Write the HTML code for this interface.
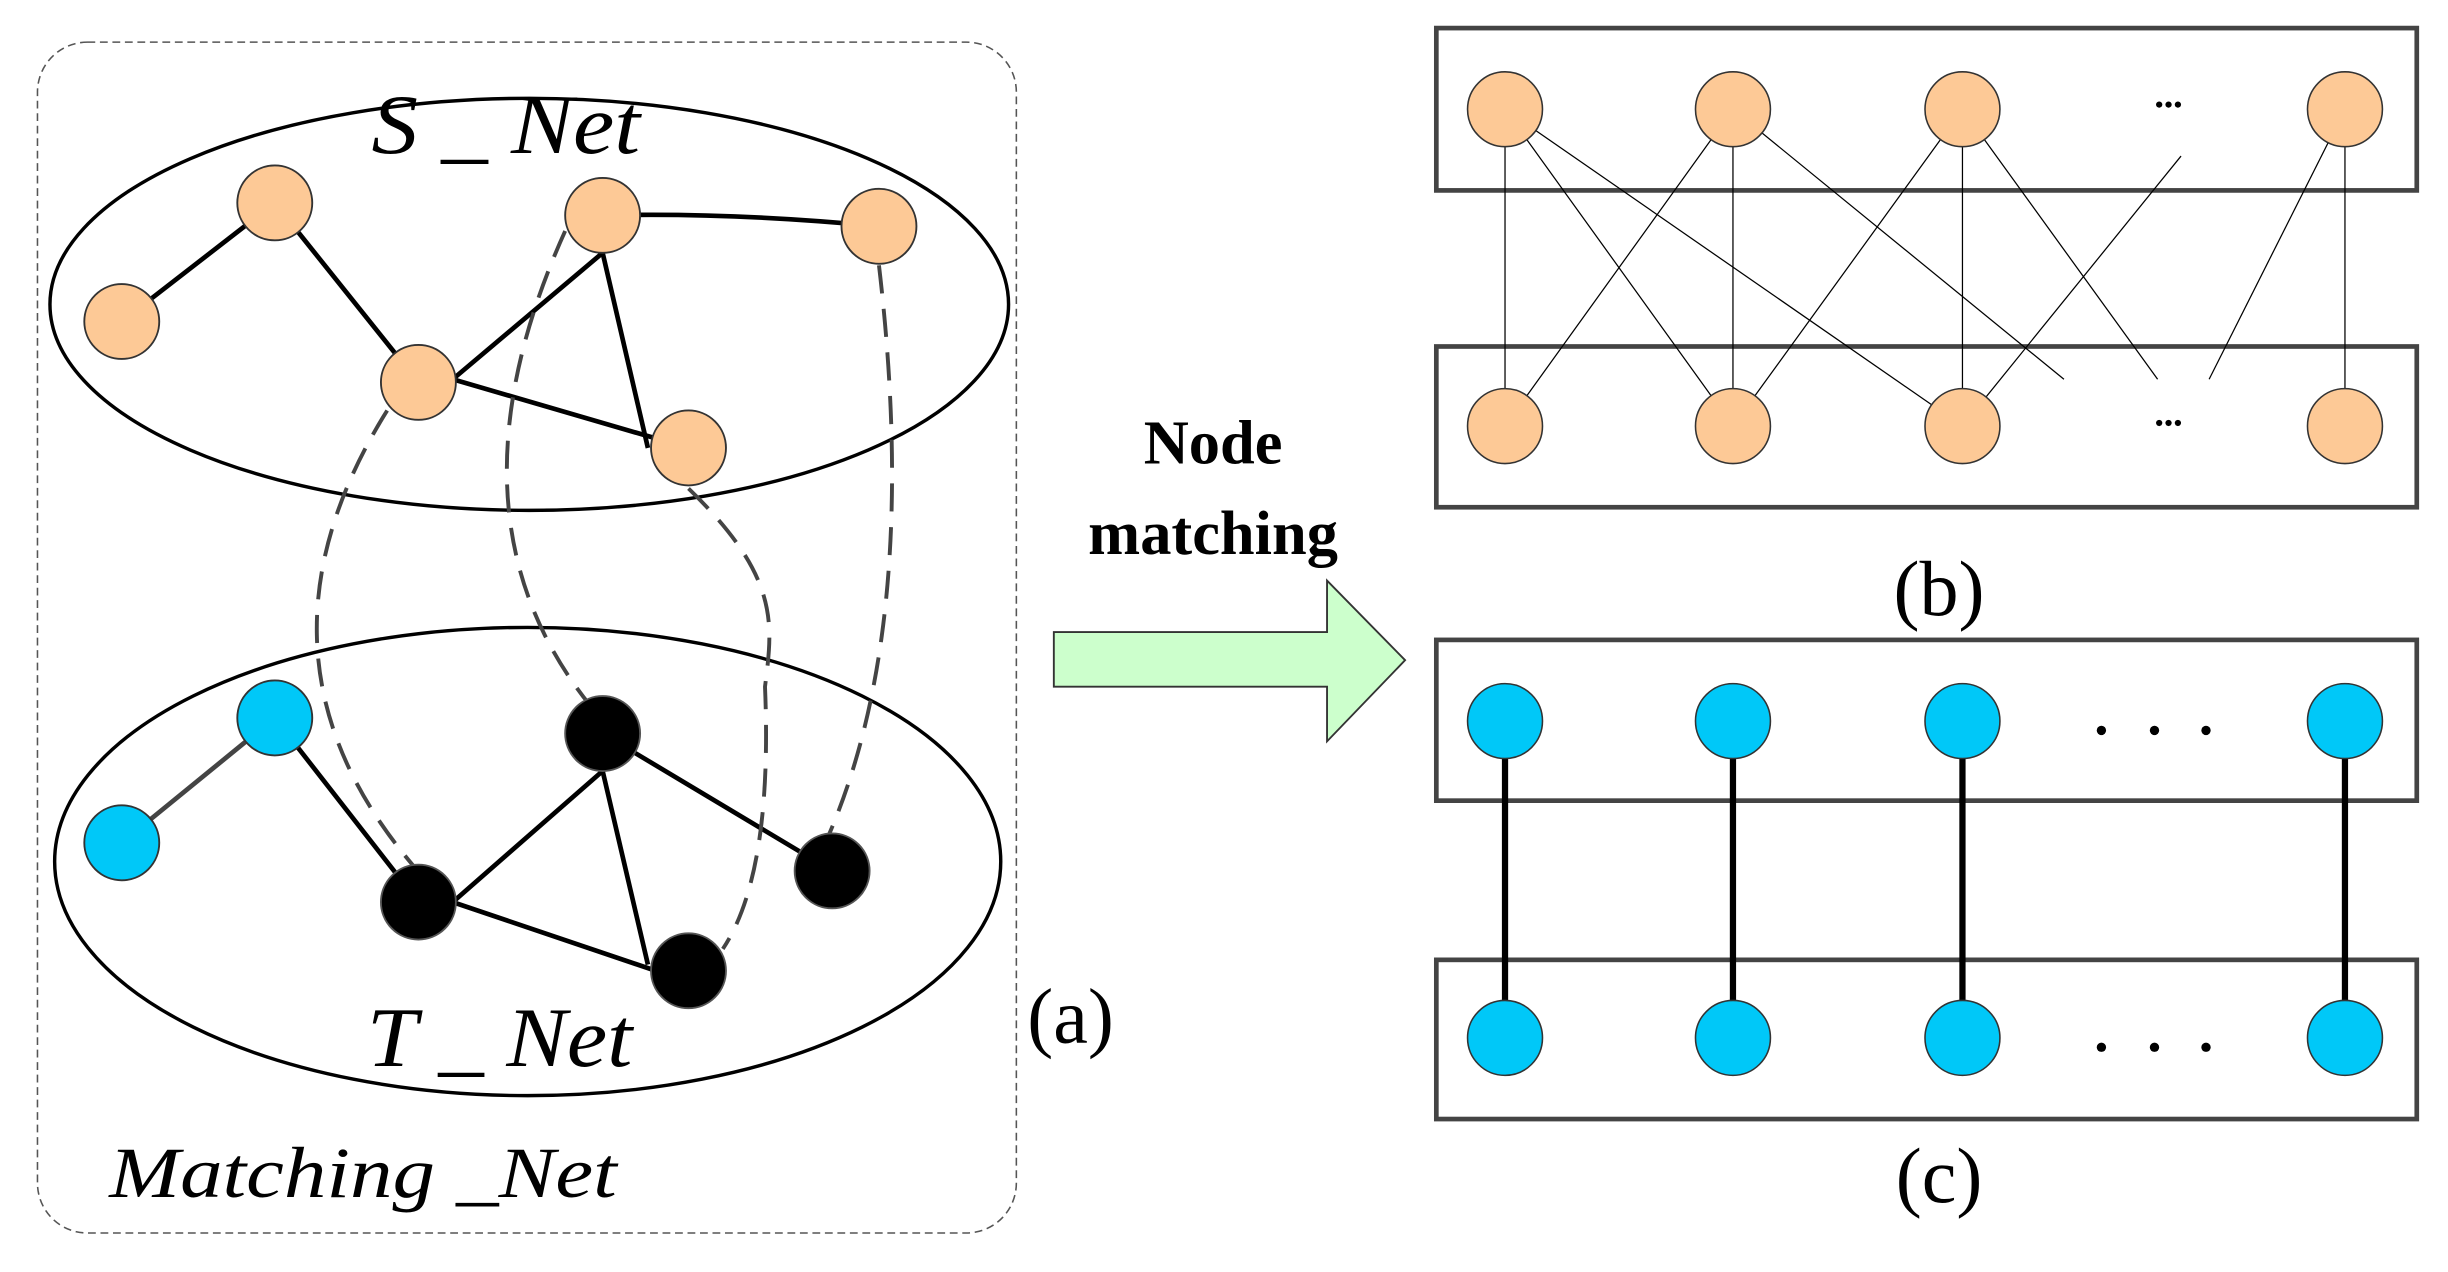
<!DOCTYPE html>
<html><head><style>html,body{margin:0;padding:0;background:#fff}svg{display:block}</style></head>
<body>
<svg width="2448" height="1272" viewBox="0 0 1568 815" preserveAspectRatio="none" xmlns="http://www.w3.org/2000/svg">
<rect width="1568" height="815" fill="#fff"/>
<rect x="24" y="27" width="627" height="763" rx="32" fill="none" stroke="#555" stroke-width="1" stroke-dasharray="5,3"/>
<ellipse cx="339" cy="195" rx="307" ry="132" fill="none" stroke="#000" stroke-width="2.2"/>
<ellipse cx="338" cy="552" rx="303" ry="150" fill="none" stroke="#000" stroke-width="2.2"/>
<g font-family="Liberation Serif, serif" font-style="italic" font-size="54" fill="#000">
<text x="238" y="98" textLength="172" lengthAdjust="spacingAndGlyphs">S _ Net</text>
<text x="235" y="683" textLength="170" lengthAdjust="spacingAndGlyphs">T _ Net</text>
<text x="70" y="767" font-size="46" textLength="325" lengthAdjust="spacingAndGlyphs">Matching _Net</text>
</g>
<g stroke="#000" stroke-width="3" fill="none">
<line x1="78" y1="206" x2="176" y2="130"/>
<line x1="176" y1="130" x2="268" y2="245"/>
<line x1="290" y1="243" x2="386" y2="162"/>
<line x1="290" y1="243" x2="441" y2="287"/>
<line x1="386" y1="162" x2="415" y2="287"/>
<path d="M386,138 Q470,136 563,145"/>
</g>
<g stroke="#000" stroke-width="3" fill="none">
<line x1="78" y1="540" x2="176" y2="460" stroke="#444"/>
<line x1="176" y1="460" x2="268" y2="578"/>
<line x1="290" y1="578" x2="386" y2="494"/>
<line x1="290" y1="578" x2="420" y2="622"/>
<line x1="386" y1="494" x2="415" y2="618"/>
<line x1="386" y1="470" x2="533" y2="558"/>
</g>
<g stroke="#444" stroke-width="2.5" fill="none" stroke-dasharray="18,10">
<path d="M248,263 Q150,420 265,555"/>
<path d="M362,148 Q280,330 378,452"/>
<path d="M441,313 C500,370 495,400 490,440 Q495,560 463,608"/>
<path d="M563,170 Q590,400 530,537"/>
</g>
<g stroke="#333" stroke-width="1.2" fill="#fdc996">
<circle cx="78" cy="206" r="24"/><circle cx="176" cy="130" r="24"/><circle cx="268" cy="245" r="24"/>
<circle cx="386" cy="138" r="24"/><circle cx="563" cy="145" r="24"/><circle cx="441" cy="287" r="24"/>
</g>
<g stroke="#333" stroke-width="1.2">
<circle cx="78" cy="540" r="24" fill="#00c8f8"/><circle cx="176" cy="460" r="24" fill="#00c8f8"/>
<circle cx="268" cy="578" r="24" fill="#000" stroke="#555"/><circle cx="386" cy="470" r="24" fill="#000" stroke="#555"/>
<circle cx="533" cy="558" r="24" fill="#000" stroke="#555"/><circle cx="441" cy="622" r="24" fill="#000" stroke="#555"/>
</g>
<text x="658" y="668" font-family="Liberation Serif, serif" font-size="50">(a)</text>
<polygon points="675,405 850,405 850,372 900,423 850,475 850,440 675,440" fill="#ccffcc" stroke="#333" stroke-width="1.2"/>
<g font-family="Liberation Serif, serif" font-weight="bold" font-size="40" text-anchor="middle">
<text x="777" y="297">Node</text><text x="777" y="355">matching</text>
</g>
<rect x="920" y="18" width="628" height="104" fill="none" stroke="#444" stroke-width="3"/>
<rect x="920" y="222" width="628" height="103" fill="none" stroke="#444" stroke-width="3"/>
<g stroke="#000" stroke-width="0.8">
<line x1="964" y1="70" x2="964" y2="273"/>
<line x1="964" y1="70" x2="1110" y2="273"/>
<line x1="964" y1="70" x2="1257" y2="273"/>
<line x1="1110" y1="70" x2="964" y2="273"/>
<line x1="1110" y1="70" x2="1110" y2="273"/>
<line x1="1110" y1="70" x2="1322" y2="243"/>
<line x1="1257" y1="70" x2="1110" y2="273"/>
<line x1="1257" y1="70" x2="1257" y2="273"/>
<line x1="1257" y1="70" x2="1382" y2="243"/>
<line x1="1397" y1="100" x2="1257" y2="273"/>
<line x1="1502" y1="70" x2="1415" y2="243"/>
<line x1="1502" y1="70" x2="1502" y2="273"/>
</g>
<g stroke="#333" stroke-width="1" fill="#fdc996">
<circle cx="964" cy="70" r="24"/><circle cx="1110" cy="70" r="24"/><circle cx="1257" cy="70" r="24"/><circle cx="1502" cy="70" r="24"/>
<circle cx="964" cy="273" r="24"/><circle cx="1110" cy="273" r="24"/><circle cx="1257" cy="273" r="24"/><circle cx="1502" cy="273" r="24"/>
</g>
<g fill="#000"><circle cx="1383" cy="67" r="2"/><circle cx="1389" cy="67" r="2"/><circle cx="1395" cy="67" r="2"/>
<circle cx="1383" cy="271" r="2"/><circle cx="1389" cy="271" r="2"/><circle cx="1395" cy="271" r="2"/></g>
<text x="1242" y="394" font-family="Liberation Serif, serif" font-size="50" text-anchor="middle">(b)</text>
<rect x="920" y="410" width="628" height="103" fill="none" stroke="#444" stroke-width="3"/>
<rect x="920" y="615" width="628" height="102" fill="none" stroke="#444" stroke-width="3"/>
<g stroke="#000" stroke-width="4">
<line x1="964" y1="462" x2="964" y2="665"/><line x1="1110" y1="462" x2="1110" y2="665"/>
<line x1="1257" y1="462" x2="1257" y2="665"/><line x1="1502" y1="462" x2="1502" y2="665"/>
</g>
<g stroke="#333" stroke-width="1" fill="#00c8f8">
<circle cx="964" cy="462" r="24"/><circle cx="1110" cy="462" r="24"/><circle cx="1257" cy="462" r="24"/><circle cx="1502" cy="462" r="24"/>
<circle cx="964" cy="665" r="24"/><circle cx="1110" cy="665" r="24"/><circle cx="1257" cy="665" r="24"/><circle cx="1502" cy="665" r="24"/>
</g>
<g fill="#000"><circle cx="1346" cy="468" r="3"/><circle cx="1380" cy="468" r="3"/><circle cx="1413" cy="468" r="3"/>
<circle cx="1346" cy="671" r="3"/><circle cx="1380" cy="671" r="3"/><circle cx="1413" cy="671" r="3"/></g>
<text x="1242" y="770" font-family="Liberation Serif, serif" font-size="50" text-anchor="middle">(c)</text>
</svg>
</body></html>
